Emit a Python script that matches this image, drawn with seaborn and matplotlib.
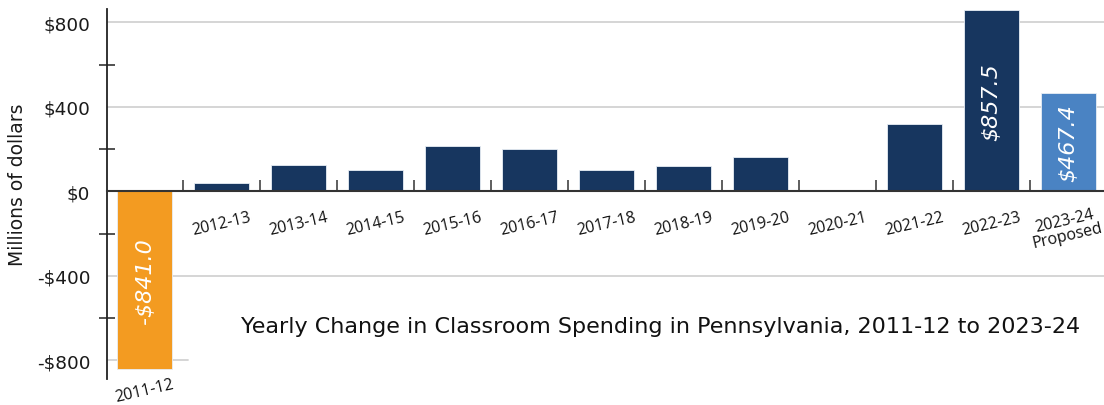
import matplotlib
matplotlib.use("Agg")
import matplotlib.pyplot as plt
import seaborn as sns
import pandas as pd
from matplotlib.ticker import FixedLocator, FuncFormatter

# Yearly change in classroom spending, millions of dollars
years = ["2011-12", "2012-13", "2013-14", "2014-15", "2015-16", "2016-17", "2017-18",
         "2018-19", "2019-20", "2020-21", "2021-22", "2022-23", "2023-24"]
changes = [-841.0, 38, 123, 101, 213, 199, 103, 120, 161, 0, 318, 857.5, 467.4]
bar_colors = ["#F39B21"] + ["#17365F"] * 11 + ["#4A83C3"]
labeled_values = {0: -841.0, 11: 857.5, 12: 467.4}
y_ticks = [-800, -400, 0, 400, 800]
minor_ticks = [-600, -200, 200, 600]

sns.set_theme(style="white")
plt.rcParams["font.family"] = ["DejaVu Sans"]

df = pd.DataFrame({"year": years, "change": changes})

fig = plt.figure(figsize=(11.04, 4.06), dpi=100)
ax = fig.add_axes([107 / 1104, 1 - 380 / 406, 1 - 107 / 1104, 370 / 406])

sns.barplot(data=df, x="year", y="change", hue="year", palette=bar_colors,
            legend=False, width=0.71, saturation=1, ax=ax,
            edgecolor="#e8eef5", linewidth=0.6, zorder=3)

ax.set_xlim(-0.49, 12.465)
ax.set_ylim(-888, 863)

# gridlines
for v in [400, 800, -400]:
    ax.axhline(v, color="#d2d2d2", lw=1.3, zorder=1)
ax.axhline(-800, xmin=0, xmax=(0.56 + 0.49) / (12.465 + 0.49), color="#d2d2d2", lw=1.3, zorder=1)

# spines
for s in ["top", "right"]:
    ax.spines[s].set_visible(False)
ax.spines["left"].set_color("#222222")
ax.spines["left"].set_linewidth(1.3)
ax.spines["bottom"].set_position(("data", 0))
ax.spines["bottom"].set_color("#333333")
ax.spines["bottom"].set_linewidth(1.5)
ax.spines["bottom"].set_zorder(4)

# y axis ticks
ax.yaxis.set_major_locator(FixedLocator(y_ticks))
ax.yaxis.set_minor_locator(FixedLocator(minor_ticks))
ax.yaxis.set_major_formatter(FuncFormatter(lambda v, p: f"${v:.0f}" if v >= 0 else f"-${-v:.0f}"))
ax.tick_params(axis="y", which="major", length=0, pad=12, labelsize=13.3, labelcolor="#1a1a1a")
ax.tick_params(axis="y", which="minor", length=11, width=1.1, direction="inout", color="#222222", left=True)
ax.set_ylabel("")

# x axis: separator ticks between categories, labels drawn as text
ax.xaxis.set_major_locator(FixedLocator([i + 0.5 for i in range(12)]))
ax.tick_params(axis="x", which="major", direction="in", length=8, width=1.1, color="#333333",
               labelbottom=False, bottom=True)
ax.set_xlabel("")

lab_font = ["Open Sans", "DejaVu Sans"]
for i, yr in enumerate(years):
    if i == 0:
        ax.text(i, -940, yr, rotation=13, ha="center", va="center", fontsize=11.5,
                color="#111111", rotation_mode="anchor", clip_on=False, family=lab_font)
    elif i == 12:
        ax.text(i - 0.03, -172, yr + "\nProposed", rotation=13, ha="center", va="center",
                fontsize=11.5, color="#111111", rotation_mode="anchor", linespacing=0.95,
                multialignment="center", family=lab_font)
    else:
        ax.text(i, -150, yr, rotation=13, ha="center", va="center", fontsize=11.5,
                color="#111111", rotation_mode="anchor", family=lab_font)

# value labels inside the highlighted bars
for i, v in labeled_values.items():
    txt = f"${v:.1f}" if v >= 0 else f"-${-v:.1f}"
    ax.text(i, v / 2, txt, rotation=90, ha="center", va="center", color="white",
            fontsize=16, style="italic", family=["DejaVu Sans"], zorder=5)

fig.text(18 / 1104, 1 - 185 / 406, "Millions of dollars", rotation=90, ha="center",
         va="center", fontsize=13.5, color="#1a1a1a")
fig.text(661 / 1104, 1 - 327 / 406,
         "Yearly Change in Classroom Spending in Pennsylvania, 2011-12 to 2023-24",
         ha="center", va="center", fontsize=16, color="#111111")

fig.savefig("out.png", dpi=100)
